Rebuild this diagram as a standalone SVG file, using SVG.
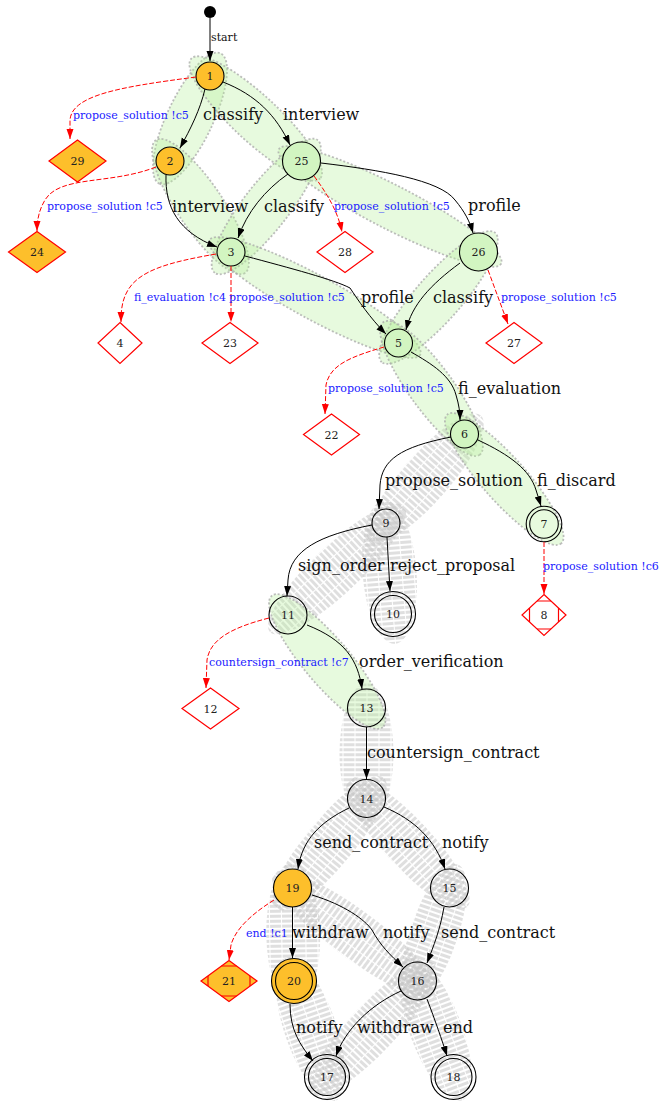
<svg xmlns="http://www.w3.org/2000/svg" width="663" height="1101" viewBox="0 0 663 1101">
<style>
  text { font-family: "DejaVu Serif", "Liberation Serif", serif; fill: #111; }
  .nl { font-size: 11px; text-anchor: middle; fill: #222; }
  .el { font-size: 16px; }
  .bl { font-size: 11px; fill: #1a1aff; }
  .sl { font-size: 11px; }
  .st { fill: none; stroke: #000; stroke-width: 1; }
  .red { fill: none; stroke: #ff0000; stroke-width: 1; stroke-dasharray: 5 2; }
  .n { fill: none; stroke: #000; stroke-width: 1.1; }
  .org { fill: #fdbf2b; stroke: #000; stroke-width: 1.1; }
  .grn { fill: #d2f5c1; stroke: #000; stroke-width: 1.1; }
  .dia { fill: #fff; stroke: #ff0000; stroke-width: 1.2; }
  .diao { fill: #fdbf2b; stroke: #ff0000; stroke-width: 1.2; }
  .gb { fill: #b6f09a; fill-opacity: 0.33; stroke: #a8a8a8; stroke-width: 1.8; stroke-dasharray: 2 2; stroke-opacity: 0.75; }
  .sb { fill: url(#stripes); }
</style>
<defs>
  <pattern id="stripes" patternUnits="userSpaceOnUse" width="5" height="12">
    <rect x="0" y="0" width="3" height="11" fill="#c4c4c4" fill-opacity="0.55"/>
  </pattern>
  <marker id="ab" markerUnits="userSpaceOnUse" markerWidth="10" markerHeight="8" refX="10" refY="3.5" orient="auto">
    <path d="M0,0 L10,3.5 L0,7 z" fill="#000"/>
  </marker>
  <marker id="ar" markerUnits="userSpaceOnUse" markerWidth="10" markerHeight="8" refX="10" refY="3.5" orient="auto">
    <path d="M0,0 L10,3.5 L0,7 z" fill="#ff0000"/>
  </marker>
</defs>

<!-- striped bands -->
<g id="bands-gray">
  <g transform="translate(425.25,478.5) rotate(131.4)"><ellipse class="sb" rx="84" ry="24"/></g>
  <g transform="translate(337,569) rotate(136.8)"><ellipse class="sb" rx="92" ry="24"/></g>
  <g transform="translate(389.5,572) rotate(85.6)"><ellipse class="sb" rx="72" ry="27"/></g>
  <g transform="translate(366.5,753.25) rotate(90)"><ellipse class="sb" rx="70" ry="27"/></g>
  <g transform="translate(329.5,843.25) rotate(129.6)"><ellipse class="sb" rx="85" ry="24"/></g>
  <g transform="translate(408,843.25) rotate(47.2)"><ellipse class="sb" rx="87" ry="24"/></g>
  <g transform="translate(293.25,934.5) rotate(89.1)"><ellipse class="sb" rx="72" ry="27"/></g>
  <g transform="translate(355,934.5) rotate(36.6)"><ellipse class="sb" rx="102" ry="24"/></g>
  <g transform="translate(433.5,934.5) rotate(109)"><ellipse class="sb" rx="74" ry="24"/></g>
  <g transform="translate(310.5,1029) rotate(71)"><ellipse class="sb" rx="76" ry="26"/></g>
  <g transform="translate(372.25,1029) rotate(133.3)"><ellipse class="sb" rx="90" ry="24"/></g>
  <g transform="translate(435.5,1029) rotate(69.4)"><ellipse class="sb" rx="76" ry="26"/></g>
</g>

<!-- green bands -->
<g id="bands-green">
  <g transform="translate(190,118.5) rotate(115.2)"><ellipse class="gb" rx="72" ry="23"/></g>
  <g transform="translate(255.75,118.5) rotate(42.9)"><ellipse class="gb" rx="88" ry="23"/></g>
  <g transform="translate(200.5,206.5) rotate(56.2)"><ellipse class="gb" rx="80" ry="23"/></g>
  <g transform="translate(266.25,206.5) rotate(127.8)"><ellipse class="gb" rx="84" ry="23"/></g>
  <g transform="translate(390,206.5) rotate(27.2)"><ellipse class="gb" rx="125" ry="22"/></g>
  <g transform="translate(314.75,297.5) rotate(28.5)"><ellipse class="gb" rx="120" ry="22"/></g>
  <g transform="translate(438.5,297.5) rotate(131.3)"><ellipse class="gb" rx="86" ry="23"/></g>
  <g transform="translate(431.5,388.5) rotate(54)"><ellipse class="gb" rx="82" ry="22"/></g>
  <g transform="translate(504.25,479) rotate(48.5)"><ellipse class="gb" rx="86" ry="22"/></g>
  <g transform="translate(327.25,661.5) rotate(49.8)"><ellipse class="gb" rx="86" ry="23"/></g>
</g>

<!-- nodes -->
<g id="start"><circle cx="210" cy="12" r="6" fill="#000"/></g>
<g id="n1"><circle class="org" cx="210" cy="76" r="14"/><text class="nl" x="210" y="80">1</text></g>
<g id="n2"><circle class="org" cx="170" cy="161" r="14"/><text class="nl" x="170" y="165">2</text></g>
<g id="n25"><circle class="grn" cx="301.5" cy="161" r="19"/><text class="nl" x="301.5" y="165">25</text></g>
<g id="n3"><circle class="grn" cx="231" cy="252" r="14"/><text class="nl" x="231" y="256">3</text></g>
<g id="n26"><circle class="grn" cx="478.5" cy="252" r="19"/><text class="nl" x="478.5" y="256">26</text></g>
<g id="n5"><circle class="grn" cx="398.5" cy="343" r="14"/><text class="nl" x="398.5" y="347">5</text></g>
<g id="n6"><circle class="grn" cx="464.5" cy="434" r="14"/><text class="nl" x="464.5" y="438">6</text></g>
<g id="n7"><circle class="n" cx="544" cy="524" r="17.8"/><circle class="n" cx="544" cy="524" r="14.3"/><text class="nl" x="544" y="528">7</text></g>
<g id="n9"><circle class="n" cx="386" cy="523" r="14"/><text class="nl" x="386" y="527">9</text></g>
<g id="n10"><circle class="n" cx="393" cy="614" r="22.5"/><circle class="n" cx="393" cy="614" r="18.5"/><text class="nl" x="393" y="618">10</text></g>
<g id="n11"><circle class="n" cx="288" cy="615" r="19"/><text class="nl" x="288" y="619">11</text></g>
<g id="n13"><circle class="n" cx="366.5" cy="708" r="19"/><text class="nl" x="366.5" y="712">13</text></g>
<g id="n14"><circle class="n" cx="366.5" cy="798.5" r="19"/><text class="nl" x="366.5" y="802.5">14</text></g>
<g id="n19"><circle class="org" cx="292.5" cy="888" r="19"/><text class="nl" x="292.5" y="892">19</text></g>
<g id="n15"><circle class="n" cx="449.5" cy="888" r="19"/><text class="nl" x="449.5" y="892">15</text></g>
<g id="n20"><circle class="org" cx="294" cy="981" r="22.5"/><circle class="org" cx="294" cy="981" r="18.5"/><text class="nl" x="294" y="985">20</text></g>
<g id="n16"><circle class="n" cx="417.5" cy="981" r="19"/><text class="nl" x="417.5" y="985">16</text></g>
<g id="n17"><circle class="n" cx="327" cy="1077" r="22.5"/><circle class="n" cx="327" cy="1077" r="18.5"/><text class="nl" x="327" y="1081">17</text></g>
<g id="n18"><circle class="n" cx="453.5" cy="1077" r="22.5"/><circle class="n" cx="453.5" cy="1077" r="18.5"/><text class="nl" x="453.5" y="1081">18</text></g>

<g id="n29"><polygon class="diao" points="77.5,140 106,161 77.5,182 49,161"/><text class="nl" x="77.5" y="165">29</text></g>
<g id="n24"><polygon class="diao" points="37,231.5 65.5,252 37,272.5 8.5,252"/><text class="nl" x="37" y="256">24</text></g>
<g id="n28"><polygon class="dia" points="345,231.5 373,252 345,272.5 317,252"/><text class="nl" x="345" y="256">28</text></g>
<g id="n4"><polygon class="dia" points="120,322.5 142,343 120,363.5 98,343"/><text class="nl" x="120" y="347">4</text></g>
<g id="n23"><polygon class="dia" points="230,322.5 258,343 230,363.5 202,343"/><text class="nl" x="230" y="347">23</text></g>
<g id="n27"><polygon class="dia" points="514,322.5 542,343 514,363.5 486,343"/><text class="nl" x="514" y="347">27</text></g>
<g id="n22"><polygon class="dia" points="331.5,414 359.5,434.5 331.5,455 303.5,434.5"/><text class="nl" x="331.5" y="438.5">22</text></g>
<g id="n12"><polygon class="dia" points="210.5,688 239,708.5 210.5,729 182,708.5"/><text class="nl" x="210.5" y="712.5">12</text></g>
<g id="n8">
  <polygon class="dia" points="544,594.5 566,615 544,635.5 522,615"/>
  <path d="M537,601 H551 M537,629 H551 M529.5,608 V622 M558.5,608 V622" fill="none" stroke="#ff0000" stroke-width="1.2"/>
  <text class="nl" x="544" y="619">8</text>
</g>
<g id="n21">
  <polygon class="diao" points="229,960.5 257,981 229,1001.5 201,981"/>
  <path d="M221.5,966 H236.5 M221.5,996 H236.5 M208,975.9 V986.1 M250,975.9 V986.1" fill="none" stroke="#ff0000" stroke-width="1.2"/>
  <text class="nl" x="229" y="985">21</text>
</g>

<!-- transitions -->
<g id="edges">
  <path class="st" marker-end="url(#ab)" d="M210,18 L210,61"/>
  <path class="st" marker-end="url(#ab)" d="M205,89 C200,110 191,128 180,148"/>
  <path class="st" marker-end="url(#ab)" d="M223,82 C256,95 276,115 290,145"/>
  <path class="red" marker-end="url(#ar)" d="M196,77 C120,87 72,95 70,120 L70,139"/>
  <path class="red" marker-end="url(#ar)" d="M156,167 C110,185 60,175 45,200 C39,210 37,220 37,231"/>
  <path class="st" marker-end="url(#ab)" d="M166,175 C165,207 178,232 217,247"/>
  <path class="st" marker-end="url(#ab)" d="M288,174 C265,190 247,212 238,238"/>
  <path class="st" marker-end="url(#ab)" d="M321,163 C380,170 440,180 455,200 C465,212 470,222 473,233"/>
  <path class="red" marker-end="url(#ar)" d="M314,176 C328,195 338,212 342,232"/>
  <path class="st" marker-end="url(#ab)" d="M460,263 C430,285 412,305 406,330"/>
  <path class="red" marker-end="url(#ar)" d="M488,270 L508,324"/>
  <path class="st" marker-end="url(#ab)" d="M245,256 C290,268 335,280 350,288 C358,300 370,318 386,334"/>
  <path class="red" marker-end="url(#ar)" d="M216,254 C170,262 140,270 128,290 C122,300 121,310 121,322"/>
  <path class="red" marker-end="url(#ar)" d="M231,266 L231,322"/>
  <path class="red" marker-end="url(#ar)" d="M384,347 C350,357 330,365 326,385 L325,414"/>
  <path class="st" marker-end="url(#ab)" d="M411,352 C432,364 451,376 456,395 C459,405 460,412 460,420"/>
  <path class="st" marker-end="url(#ab)" d="M451,437 C400,447 382,460 380,485 L379,509"/>
  <path class="st" marker-end="url(#ab)" d="M478,440 C510,455 530,470 536,490 L541,506"/>
  <path class="red" marker-end="url(#ar)" d="M544,542 L544,594"/>
  <path class="st" marker-end="url(#ab)" d="M372,525 C320,535 290,550 288,580 L287,596"/>
  <path class="st" marker-end="url(#ab)" d="M387,537 L390,591"/>
  <path class="red" marker-end="url(#ar)" d="M269,618 C230,628 210,640 207,660 L206,688"/>
  <path class="st" marker-end="url(#ab)" d="M307,625 C345,640 358,660 362,689"/>
  <path class="st" marker-end="url(#ab)" d="M366.5,727 L366.5,779"/>
  <path class="st" marker-end="url(#ab)" d="M349,808 C320,822 302,840 298,869"/>
  <path class="st" marker-end="url(#ab)" d="M384,807 C415,820 435,840 445,869"/>
  <path class="st" marker-end="url(#ab)" d="M292.5,907 L292.5,958"/>
  <path class="st" marker-end="url(#ab)" d="M312,895 C345,905 365,920 372,930 C380,945 390,955 403,967"/>
  <path class="st" marker-end="url(#ab)" d="M444,907 C440,930 434,945 427,963"/>
  <path class="red" marker-end="url(#ar)" d="M274,900 C250,915 235,930 231,945 L229,960"/>
  <path class="st" marker-end="url(#ab)" d="M290,1004 C290,1030 300,1045 313,1061"/>
  <path class="st" marker-end="url(#ab)" d="M401,991 C370,1005 345,1030 336,1056"/>
  <path class="st" marker-end="url(#ab)" d="M427,999 C435,1020 442,1040 447,1056"/>
</g>

<!-- transition labels -->
<g id="labels">
  <text class="sl" x="211" y="41">start</text>
  <text class="el" x="203" y="120">classify</text>
  <text class="el" x="283" y="120">interview</text>
  <text class="bl" x="73" y="119">propose_solution !c5</text>
  <text class="bl" x="47" y="210">propose_solution !c5</text>
  <text class="el" x="172" y="212">interview</text>
  <text class="el" x="264" y="212">classify</text>
  <text class="bl" x="334" y="210">propose_solution !c5</text>
  <text class="el" x="468" y="211">profile</text>
  <text class="el" x="361" y="303">profile</text>
  <text class="el" x="433" y="303">classify</text>
  <text class="bl" x="501" y="301">propose_solution !c5</text>
  <text class="bl" x="134" y="301">fi_evaluation !c4</text>
  <text class="bl" x="229" y="301">propose_solution !c5</text>
  <text class="bl" x="328" y="392">propose_solution !c5</text>
  <text class="el" x="458" y="394">fi_evaluation</text>
  <text class="el" x="385" y="486">propose_solution</text>
  <text class="el" x="537" y="486">fi_discard</text>
  <text class="bl" x="543" y="570">propose_solution !c6</text>
  <text class="el" x="298" y="571">sign_order</text>
  <text class="el" x="390" y="571">reject_proposal</text>
  <text class="bl" x="209" y="666">countersign_contract !c7</text>
  <text class="el" x="359" y="667">order_verification</text>
  <text class="el" x="367" y="758">countersign_contract</text>
  <text class="el" x="314" y="848">send_contract</text>
  <text class="el" x="442" y="848">notify</text>
  <text class="bl" x="246" y="937">end !c1</text>
  <text class="el" x="292" y="938">withdraw</text>
  <text class="el" x="383" y="938">notify</text>
  <text class="el" x="441" y="938">send_contract</text>
  <text class="el" x="296" y="1033">notify</text>
  <text class="el" x="357" y="1033">withdraw</text>
  <text class="el" x="443" y="1033">end</text>
</g>
</svg>
